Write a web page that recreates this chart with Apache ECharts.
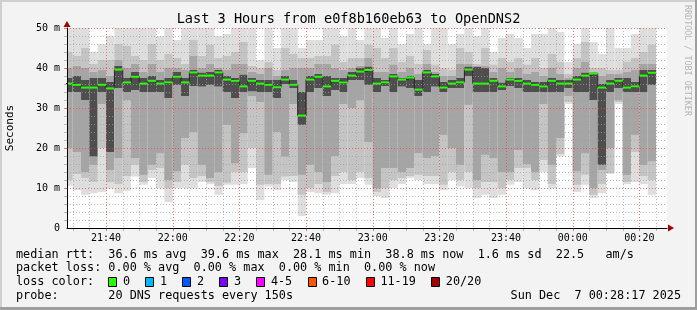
<!DOCTYPE html>
<html><head><meta charset="utf-8">
<script src="https://cdn.jsdelivr.net/npm/echarts@6/dist/echarts.min.js"></script>
<style>html,body{margin:0;padding:0;background:#f3f3f3;overflow:hidden}#c{width:697px;height:310px}</style>
</head><body><div id="c"></div>
<script>
// ---------------- data ----------------
const titleText = 'Last 3 Hours from e0f8b160eb63 to OpenDNS2';
const axisStart = '21:28:17';
const axisEnd = '00:28:17';
const stepMinutes = 2.5; // 150 s per bar
const barEnd = ['21:30:00','21:32:30','21:35:00','21:37:30','21:40:00','21:42:30','21:45:00','21:47:30','21:50:00','21:52:30',
'21:55:00','21:57:30','22:00:00','22:02:30','22:05:00','22:07:30','22:10:00','22:12:30','22:15:00','22:17:30',
'22:20:00','22:22:30','22:25:00','22:27:30','22:30:00','22:32:30','22:35:00','22:37:30','22:40:00','22:42:30',
'22:45:00','22:47:30','22:50:00','22:52:30','22:55:00','22:57:30','23:00:00','23:02:30','23:05:00','23:07:30',
'23:10:00','23:12:30','23:15:00','23:17:30','23:20:00','23:22:30','23:25:00','23:27:30','23:30:00','23:32:30',
'23:35:00','23:37:30','23:40:00','23:42:30','23:45:00','23:47:30','23:50:00','23:52:30','23:55:00','23:57:30',
'00:00:00','00:02:30','00:05:00','00:07:30','00:10:00','00:12:30','00:15:00','00:17:30','00:20:00','00:22:30','00:25:00'];
// smoke bands (ms): outermost (max/min) to innermost around the median
const smokeTop1 = [50,50,50,44,46,48,50,50,50,50,50,48,50,47,50,50,50,50,48,48.5,50,50,50,42,50,45,50,50,45,47,47,50,50,48,50,47,50,50,47.5,50,46,48.5,50,46,50,50,46,48.5,50,48,50,44,47.5,48.5,47.5,45,48.5,48.5,50,49,41.5,46,50,46.5,43.5,50,45,45,48.5,50,50];
const smokeTop2 = [44,43,45,41,42,42,46,45.5,43,42,46,42,43.5,42.5,41,47,43,45.8,42.5,43,44,46.5,40.5,40,41.5,39.5,45,43.5,42.5,42.5,43,43,45.8,41.5,42.5,42.5,45.8,45,42.5,45,41.5,43,41,44.5,40.8,40,39.5,45,44,41,45,40.8,42.5,41.5,42.5,40.8,42.5,40,43.5,41.5,38.5,42.5,46.5,40,40,39.5,39.5,41.5,42.5,44,45.8];
const smokeTop3 = [40,40.5,40,39,39.5,38,42,40,41,39,41,39,40,40,39.5,43,40,41,40,39.5,41,41,39,38.5,40,38,39.5,40,40,40,41,41,40,39.5,40,40.5,42.5,39,39,40.8,39,40,38.5,41,39,38,38,41,41,40.3,40.5,39,40,39,40,38.5,39,38,40,38.5,37.5,40,41.5,39,38,38.5,38.5,39,39.5,41,41];
const smokeTop4 = [37.5,38,37,37.5,37.5,36.5,40.5,37.5,39,37.5,38,37,37.5,39,37.5,39.5,38.8,39,39.5,38,37.5,38.3,37.5,37,37,37,38,37,34,38,38.5,38,37.5,37.5,39,40,40.3,37.5,37,38.5,37.5,38,37,39.5,38.5,36.5,37,37.5,40.3,40.3,40,37.5,36.3,37.5,37.5,37,36.5,36.5,37.5,37,37,38,38.8,38.8,36,37,37.5,37.5,36.5,39.5,39.5];
const medianRtt = [36.1,35.8,35.1,35.1,35.8,34.9,39.6,36.4,37.8,36.1,36.8,36.1,36.4,37.8,36.4,38.9,38.1,38.1,38.9,37.1,36.8,35.4,36.8,36.1,35.8,35.2,37.1,35.8,28.1,37.1,37.8,35.4,36.8,36.4,38.1,39.1,39.5,36.1,36.4,37.9,37.1,37.6,34.6,38.9,37.9,35.1,36.1,36.4,39.6,36.1,36.1,36.8,35.4,37.1,36.8,36.1,35.8,35.4,36.8,36.1,36.1,37.1,38.1,38.6,35.1,36.1,36.8,35.1,35.4,38.1,38.8];
const smokeBot4 = [34,34,32,17.9,34,19,35,34,34.5,34,34,34,32.5,35.8,33,35.5,35.4,35.8,35.4,34,32.5,34,34.2,34,34,32.5,36,35,25.8,34,35,33,34.5,34,37,37,35.8,34,35.5,34,35.4,35,33,34,35.4,34,35,35,38,34,34,34,34.5,35.5,35,34,34,34,34,34,35,34,34,32,15.8,34,35,34,34,34,35.8];
const smokeBot3 = [20,19,14,15.8,31,14.5,17.5,32,17.5,13.3,15.8,18.7,12,14.2,22.5,24,15.8,12.5,14,25.8,16.2,23.7,33,31.5,13.3,24,17.9,31,13.3,15.8,14,11.5,18,31,30,32,21.5,10,15,15,14,15,18.7,17.5,18,23.3,20,15.8,30.8,12,18.3,17.5,14,14,19.5,16,14,31,15.8,22.5,33,14.2,18.7,10,14.5,20,32,13.3,23.3,15.8,16.7];
const smokeBot2 = [12,13.5,12.5,11.5,20,11.5,11,13,15.8,11.5,14.5,15,10,11.5,15.8,12.5,13,11.5,10.5,11.3,14,14,20,10.8,11,11,12.9,13,8.3,10,11,9,13,14,12,14,12.5,9,10,12,12.5,13,13.3,13,13,10.8,14,12,14,10,11.5,11.5,10,12,15,15,12,17,11,18.5,31.5,10.8,13.3,8.3,11,13.8,31.5,11.5,19,13,12];
const smokeBot1 = [10.5,9.5,8.3,8.7,9,9.8,8.7,9.3,12.9,10.8,12.5,10,6.5,10,10,10,11.5,11,8.3,10.8,10.8,11,15,7,10.4,9.5,12,11.5,3,9,8.7,8.3,8.7,11,11,12.5,10.8,8,7.5,10,11,12.5,12,11,11,9.5,12,10.4,10,7.5,8.3,7.5,8.3,10.8,11.5,10,9.5,14,10,17.9,31,9,10.8,7.5,8.7,13.5,31,11,11.5,11,8.3];
const xTickLabels = ['21:40','22:00','22:20','22:40','23:00','23:20','23:40','00:00','00:20'];
const yTickLabels = ['0','10 m','20 m','30 m','40 m','50 m'];
const legendLines = [
  'median rtt:  36.6 ms avg  39.6 ms max  28.1 ms min  38.8 ms now  1.6 ms sd  22.5   am/s',
  'packet loss: 0.00 % avg  0.00 % max  0.00 % min  0.00 % now',
  'loss color:',
  'probe:       20 DNS requests every 150s'
];
const lossLabels = ['0','1','2','3','4-5','6-10','11-19','20/20'];
const lossColors = ['#26ff00','#00b8ff','#0059ff','#7e00ff','#ff00ff','#ff5500','#ff0000','#a10000'];
const dateText = 'Sun Dec  7 00:28:17 2025';
const sideText = 'RRDTOOL / TOBI OETIKER';

// ---------------- helpers ----------------
function toMin(s){const p=s.split(':').map(Number);let h=p[0];if(h<12)h+=24;return (h-21)*60+p[1]+(p[2]||0)/60;}
const X0 = toMin(axisStart), X1 = toMin(axisEnd);
const Y0 = 0, Y1 = 50;
const mono = 'DejaVu Sans Mono';

const smokeData = barEnd.map((t,i)=>[toMin(t), smokeTop1[i], smokeTop2[i], smokeTop3[i], smokeTop4[i], medianRtt[i], smokeBot4[i], smokeBot3[i], smokeBot2[i], smokeBot1[i]]);
const stepLine = barEnd.map((t,i)=>[toMin(t)-stepMinutes, medianRtt[i]]);
stepLine.push([toMin(barEnd[barEnd.length-1]), medianRtt[medianRtt.length-1]]);

// grid lines: [x, y, orientation(0=vertical,1=horizontal), major]
const gridData = [];
const majorX = xTickLabels.map(toMin);
for (let m = Math.ceil(X0/5)*5; m < X1; m += 5) {
  const isMajor = majorX.some(v=>Math.abs(v-m)<1e-6);
  gridData.push([m, Y0, 0, isMajor?1:0]);
}
for (let v = 2; v <= Y1; v += 2) gridData.push([X0, v, 1, v%10===0?1:0]);

const layerColors = ['#dedede','#c4c4c4','#a5a5a5','#4e4e4e'];

function renderSmoke(params, api){
  const end = api.value(0);
  const xL = api.coord([end - stepMinutes, 0])[0];
  const xR = api.coord([end, 0])[0];
  const ch = [];
  for (let k=0;k<4;k++){
    const yT = api.coord([end, api.value(1+k)])[1];
    const yB = api.coord([end, api.value(9-k)])[1];
    ch.push({type:'rect', shape:{x:xL, y:yT, width:xR-xL, height:yB-yT}, style:{fill:layerColors[k]}});
  }
  return {type:'group', children:ch};
}
function renderMedian(params, api){
  const end = api.value(0);
  const xL = api.coord([end - stepMinutes, 0])[0];
  const xR = api.coord([end, 0])[0];
  const y = api.coord([end, api.value(5)])[1];
  return {type:'rect', shape:{x:xL, y:y-1, width:xR-xL, height:2}, style:{fill:lossColors[0]}};
}
function renderGrid(params, api){
  const orient = api.value(2), major = api.value(3);
  const color = major ? 'rgba(235,70,70,0.75)' : 'rgba(160,160,160,0.7)';
  if (orient === 0) {
    const p0 = api.coord([api.value(0), Y0]), p1 = api.coord([api.value(0), Y1]);
    const x = Math.round(p0[0]) + 0.5;
    return {type:'group', children:[
      {type:'line', shape:{x1:x,y1:p1[1],x2:x,y2:p0[1]}, style:{stroke:color, lineWidth:1, lineDash:[1,2]}},
      {type:'line', shape:{x1:x,y1:p0[1],x2:x,y2:p0[1]+3}, style:{stroke:color, lineWidth:1}}
    ]};
  }
  const p0 = api.coord([X0, api.value(1)]), p1 = api.coord([X1, api.value(1)]);
  const y = Math.round(p0[1]) + 0.5;
  return {type:'group', children:[
    {type:'line', shape:{x1:p0[0],y1:y,x2:p1[0],y2:y}, style:{stroke:color, lineWidth:1, lineDash:[1,2]}},
    {type:'line', shape:{x1:p0[0]-3,y1:y,x2:p0[0],y2:y}, style:{stroke:color, lineWidth:1}}
  ]};
}
function renderArrows(params, api){
  const p = api.coord([api.value(0), api.value(1)]);
  const c = '#a00000';
  if (api.value(2) === 0) {
    return {type:'polygon', shape:{points:[[p[0]+1,p[1]-3.5],[p[0]+7,p[1]],[p[0]+1,p[1]+3.5]]}, style:{fill:c}};
  }
  return {type:'polygon', shape:{points:[[p[0]-3.5,p[1]-1],[p[0],p[1]-7],[p[0]+3.5,p[1]-1]]}, style:{fill:c}};
}

// legend graphics
const CW = 7.1, LX = 16;
const lineY = [254.5, 268.3, 282, 296];
const g = [];
g.push({type:'text', x:348.5, y:19.5, style:{text:titleText, font:'13.6px "'+mono+'"', fill:'#000', align:'center', verticalAlign:'middle'}});
g.push({type:'text', x:687, y:5, rotation:-Math.PI/2, style:{text:sideText, font:'8.4px "'+mono+'"', fill:'#b4b4b4', align:'left', verticalAlign:'middle'}});
legendLines.forEach((t,i)=>g.push({type:'text', x:LX, y:lineY[i], style:{text:t, font:'11.8px "'+mono+'"', fill:'#000', align:'left', verticalAlign:'middle'}}));
let sx = LX + 13*CW;
lossLabels.forEach((lab,i)=>{
  g.push({type:'rect', shape:{x:Math.round(sx)+0.5, y:277.5, width:8, height:9}, style:{fill:lossColors[i], stroke:'#000', lineWidth:1}});
  g.push({type:'text', x:sx+14.6, y:lineY[2], style:{text:lab, font:'11.8px "'+mono+'"', fill:'#000', align:'left', verticalAlign:'middle'}});
  sx = sx + 14.6 + lab.length*CW + 15.3;
});
g.push({type:'text', x:681, y:lineY[3], style:{text:dateText, font:'11.8px "'+mono+'"', fill:'#000', align:'right', verticalAlign:'middle'}});
// frame
g.push({type:'rect', shape:{x:0,y:0,width:697,height:2}, style:{fill:'#d0d0d0'}});
g.push({type:'rect', shape:{x:0,y:0,width:2,height:310}, style:{fill:'#d0d0d0'}});
g.push({type:'rect', shape:{x:695,y:0,width:2,height:310}, style:{fill:'#9e9e9e'}});
g.push({type:'rect', shape:{x:0,y:307,width:697,height:3}, style:{fill:'#9e9e9e'}});

const chart = echarts.init(document.getElementById('c'), null, {renderer:'canvas', width:697, height:310});
chart.setOption({
  animation:false,
  backgroundColor:'#f3f3f3',
  graphic:g,
  grid:{left:67, top:28, width:600, height:200, show:true, backgroundColor:'#ffffff', borderWidth:0, containLabel:false, outerBoundsMode:'none'},
  xAxis:{type:'value', min:X0, max:X1, splitNumber:9, z:5,
    axisLine:{show:true, lineStyle:{color:'#000', width:1}},
    axisTick:{show:false}, splitLine:{show:false},
    axisLabel:{show:true, showMinLabel:false, showMaxLabel:false, margin:5, color:'#000', fontFamily:mono, fontSize:10,
      formatter:v=>{const i=majorX.findIndex(m=>Math.abs(m-v)<1e-6);return i>=0?xTickLabels[i]:'';}}},
  yAxis:{type:'value', min:Y0, max:Y1, interval:10, z:5,
    name:'Seconds', nameLocation:'middle', nameGap:51, nameRotate:90,
    nameTextStyle:{fontFamily:mono, fontSize:11, color:'#000'},
    axisLine:{show:true, lineStyle:{color:'#000', width:1}},
    axisTick:{show:false}, splitLine:{show:false},
    axisLabel:{margin:7, color:'#000', fontFamily:mono, fontSize:10, formatter:v=>yTickLabels[Math.round(v/10)]}},
  series:[
    {type:'custom', name:'smoke', renderItem:renderSmoke, data:smokeData, clip:true, z:2, silent:true},
    {type:'custom', name:'grid', renderItem:renderGrid, data:gridData, clip:false, z:3, silent:true},
    {type:'line', name:'median step', data:stepLine, step:'end', symbol:'none', clip:true, z:4, silent:true,
      lineStyle:{color:'#202020', width:1}},
    {type:'custom', name:'median', renderItem:renderMedian, data:smokeData, clip:true, z:5, silent:true},
    {type:'custom', name:'arrows', renderItem:renderArrows, data:[[X1,Y0,0],[X0,Y1,1]], clip:false, z:6, silent:true}
  ]
});
</script></body></html>
